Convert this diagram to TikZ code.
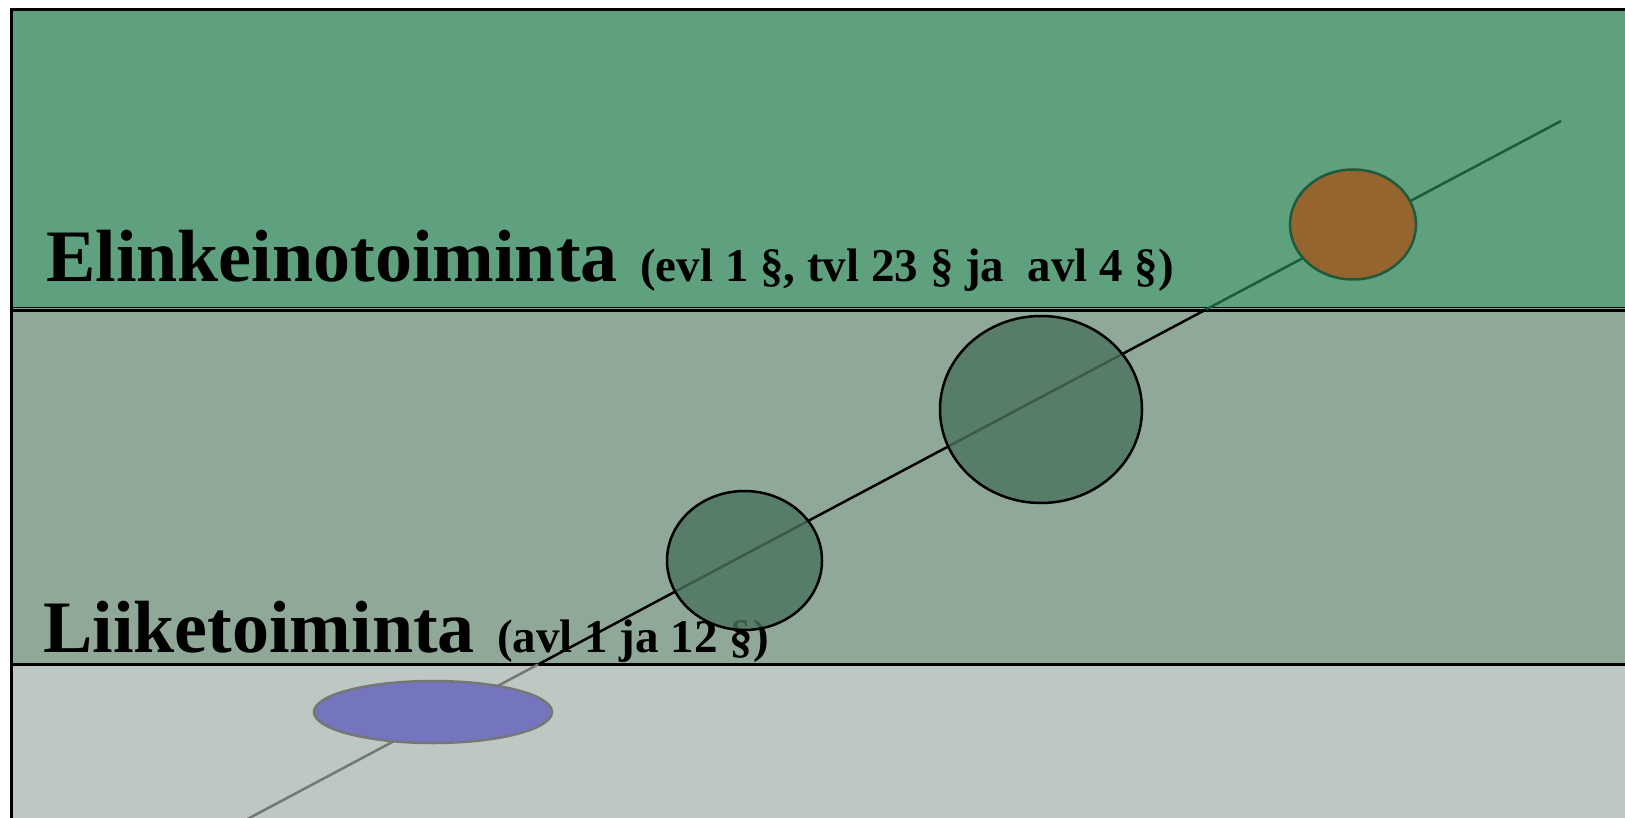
\documentclass[tikz,border=0pt]{standalone}
\usepackage{fontspec}
\setmainfont{Liberation Serif}
\usetikzlibrary{positioning,shapes.geometric}
\definecolor{leaf}{HTML}{5FA17E}
\definecolor{sage}{HTML}{8FA898}
\definecolor{mist}{HTML}{BEC8C2}
\definecolor{pine}{HTML}{1E5A3C}
\definecolor{moss}{HTML}{4A725B}
\definecolor{rust}{HTML}{96652F}
\definecolor{iris}{HTML}{7575BF}
\definecolor{ash}{HTML}{767676}
\tikzset{
  title/.style={anchor=base west,inner sep=0pt,font=\bfseries\fontsize{74}{80}\selectfont},
  law/.style={anchor=base west,inner sep=0pt,font=\bfseries\fontsize{47}{52}\selectfont},
  blob/.style={ellipse,inner sep=0pt,outer sep=0pt,line width=2.5pt},
}

\begin{document}
\begin{tikzpicture}[x=1pt,y=-1pt]
\useasboundingbox (0,0) rectangle (1625,818);
\fill[white] (0,0) rectangle (1625,818);
\clip (0,0) rectangle (1625,818);
% bands
\fill[leaf] (11,10) rectangle (1625,307.5);
\fill[sage] (11,307.5) rectangle (1625,664);
\fill[mist] (11,664) rectangle (1625,818);
\draw[line width=1.2pt] (11,307.5) -- (1625,307.5);
\draw[line width=3pt] (11,311) -- (1625,311);
\draw[line width=3.5pt] (11,664.5) -- (1625,664.5);
\draw[line width=3pt] (11,830) |- (1630,10);
% titles
\node[title] (elin) at (46,282) {Elinkeinotoiminta};
\node[law] (elinlaw) at (640,282) {(evl 1 §, tvl 23 § ja\ \ avl 4 §)};
\node[title] (liike) at (43,652) {Liiketoiminta};
\node[law] (liikelaw) at (497,652) {(avl 1 ja 12 §)};
% the slope
\coordinate (tip) at (1561,121);
\coordinate (cut1) at (1206,309.5);
\coordinate (cut2) at (538,664.5);
\coordinate (foot) at (240,823);
\draw[pine,line width=2.5pt] (tip) -- (cut1);
\draw[line width=2.5pt] (cut1) -- (cut2);
\draw[ash,line width=2.5pt] (cut2) -- (foot);
% ellipses
\node[blob,fill=rust,draw=pine,minimum width=126,minimum height=110] (orange) at (1353,224.5) {};
\node[blob,fill=moss,fill opacity=0.8,draw=black,minimum width=202,minimum height=187] (big) at (1041,409.5) {};
\node[blob,fill=moss,fill opacity=0.8,draw=black,minimum width=155,minimum height=139] (small) at (744.5,560.5) {};
\node[blob,fill=iris,draw=ash,minimum width=238,minimum height=62] (flat) at (433,712) {};
\end{tikzpicture}
\end{document}
